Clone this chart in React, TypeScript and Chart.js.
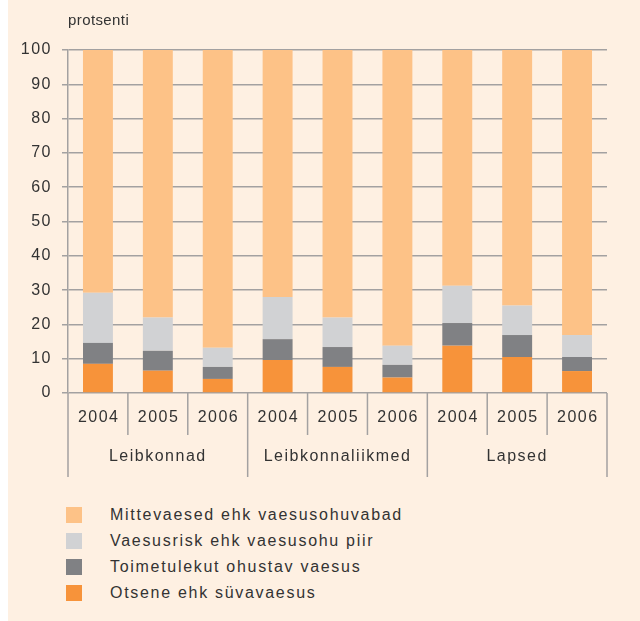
import { useEffect, useRef } from "react";
import { Chart, registerables } from "chart.js";

Chart.register(...registerables);

const years = ["2004", "2005", "2006", "2004", "2005", "2006", "2004", "2005", "2006"];
const groups = ["Leibkonnad", "Leibkonnaliikmed", "Lapsed"];
const groupSize = 3;
const yUnit = "protsenti";

const otsene = [8.5, 6.5, 4.1, 9.6, 7.6, 4.5, 13.8, 10.5, 6.4];
const toimetulekut = [6.1, 5.8, 3.5, 6.1, 5.8, 3.7, 6.6, 6.4, 4.1];
const vaesusrisk = [14.6, 9.7, 5.6, 12.3, 8.6, 5.6, 10.9, 8.6, 6.4];
const mittevaesed = [70.8, 78.0, 86.8, 72.0, 78.0, 86.2, 68.7, 74.5, 83.1];

const seriesNames = [
  "Otsene ehk süvavaesus",
  "Toimetulekut ohustav vaesus",
  "Vaesusrisk ehk vaesusohu piir",
  "Mittevaesed ehk vaesusohuvabad",
];
const seriesValues = [otsene, toimetulekut, vaesusrisk, mittevaesed];
const seriesColors = ["#f7933a", "#808184", "#d1d2d4", "#fdc287"];

const LINE = "#a3a1a1";
const TEXT = "#333333";
const FONT = "'Liberation Sans', Arial, sans-serif";

const multiAxisPlugin = {
  id: "multiAxis",
  beforeDraw(chart: any) {
    chart.ctx.letterSpacing = "1.5px";
  },
  afterDraw(chart: any) {
    const { ctx, chartArea, scales } = chart;
    const x = scales.x;
    const bottom = chartArea.bottom;
    const half = (x.getPixelForValue(1) - x.getPixelForValue(0)) / 2;
    ctx.save();
    ctx.strokeStyle = LINE;
    ctx.lineWidth = 1.5;
    for (let i = 0; i <= years.length; i++) {
      const px = i < years.length ? x.getPixelForValue(i) - half : x.getPixelForValue(years.length - 1) + half;
      const len = i % groupSize === 0 ? 84 : 42;
      ctx.beginPath();
      ctx.moveTo(px, bottom);
      ctx.lineTo(px, bottom + len);
      ctx.stroke();
    }
    ctx.fillStyle = TEXT;
    ctx.font = "16px " + FONT;
    ctx.letterSpacing = "1.5px";
    ctx.textAlign = "center";
    ctx.textBaseline = "middle";
    years.forEach((y, i) => {
      ctx.fillText(y, x.getPixelForValue(i) + 0.75, bottom + 25);
    });
    groups.forEach((g, gi) => {
      const a = x.getPixelForValue(gi * groupSize);
      const b = x.getPixelForValue(gi * groupSize + groupSize - 1);
      ctx.fillText(g, (a + b) / 2, bottom + 64);
    });
    ctx.font = "15px " + FONT;
    ctx.letterSpacing = "0.4px";
    ctx.textAlign = "left";
    ctx.fillText(yUnit, chartArea.left, 21);
    ctx.restore();
  },
};

export default function App() {
  const ref = useRef<HTMLCanvasElement>(null);
  useEffect(() => {
    const chart = new Chart(ref.current!, {
      type: "bar",
      data: {
        labels: years,
        datasets: seriesValues.map((v, i) => ({
          label: seriesNames[i],
          data: v,
          backgroundColor: seriesColors[i],
          borderWidth: 0,
          barPercentage: 0.5,
          categoryPercentage: 1,
        })),
      },
      options: {
        animation: false,
        responsive: false,
        devicePixelRatio: 1,
        layout: { padding: { left: 0, right: 33, top: 50, bottom: 97 } },
        plugins: { legend: { display: false }, tooltip: { enabled: false } },
        scales: {
          x: { stacked: true, display: false },
          y: {
            stacked: true,
            min: 0,
            max: 100,
            afterFit: (s: any) => {
              s.width = 60;
            },
            ticks: { stepSize: 10, padding: 10, color: TEXT, font: { size: 16, family: FONT } },
            grid: { color: LINE, lineWidth: 1.5, tickLength: 6, drawTicks: true },
            border: { color: LINE, width: 1.5 },
          },
        },
      },
      plugins: [multiAxisPlugin],
    });
    return () => chart.destroy();
  }, []);

  const legendItems = seriesNames.map((n, i) => ({ n, c: seriesColors[i] })).reverse();

  return (
    <div
      style={{
        position: "absolute",
        left: 8,
        top: 0,
        width: 632,
        height: 621,
        background: "#fef0e2",
        fontFamily: FONT,
      }}
    >
      <canvas ref={ref} width={632} height={490} style={{ display: "block" }} />
      <div style={{ position: "absolute", left: 58, top: 502 }}>
        {legendItems.map((it) => (
          <div key={it.n} style={{ display: "flex", alignItems: "center", height: 26 }}>
            <div style={{ width: 16, height: 16, background: it.c, marginRight: 28 }} />
            <span style={{ fontSize: 16, letterSpacing: "1.7px", color: TEXT, whiteSpace: "nowrap" }}>{it.n}</span>
          </div>
        ))}
      </div>
    </div>
  );
}
